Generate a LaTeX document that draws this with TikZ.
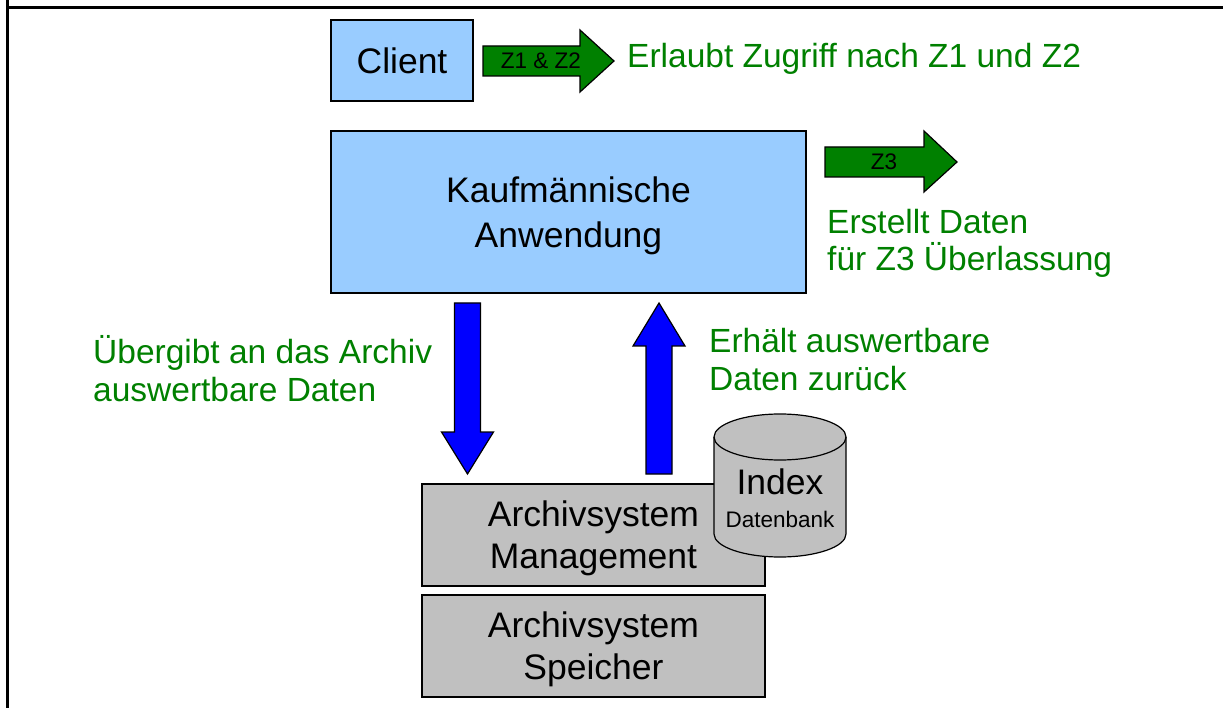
\documentclass[tikz,border=0pt]{standalone}
\usepackage{fontspec}
\setmainfont{Liberation Sans}
\usepackage{tikz}
\usetikzlibrary{calc}

\definecolor{boxblue}{RGB}{153,204,255}
\definecolor{boxgray}{RGB}{192,192,192}
\definecolor{darkgreen}{RGB}{0,128,0}

\begin{document}
\begin{tikzpicture}[x=1pt, y=-1pt,
  box/.style={draw, line width=1.2pt, inner sep=0pt, align=center, font=\fontsize{35.5}{40}\selectfont},
  note/.style={anchor=base west, inner sep=0pt, align=left, text=darkgreen, font=\fontsize{33.5}{37.5}\selectfont},
  tag/.style={inner sep=0pt, font=\fontsize{22.5}{26}\selectfont},
  greenarrow/.style={draw, line width=1.2pt, fill=darkgreen},
  bluearrow/.style={draw, line width=1.2pt, fill=blue}]
\useasboundingbox (0,0) rectangle (1223,708);
\draw[line width=3pt] (7.5,0) -- (7.5,708);
\draw[line width=3pt] (7.5,7.5) -- (1223,7.5);

% boxes
\node[box, fill=boxblue, minimum width=142pt, minimum height=81pt] (client) at (402,60.5) {Client};
\node[box, fill=boxblue, minimum width=475pt, minimum height=162pt, font=\fontsize{35.5}{45}\selectfont, text depth=-2pt] (kaufm) at (568.5,212) {Kaufmännische\\Anwendung};
\node[box, fill=boxgray, minimum width=343pt, minimum height=102pt, font=\fontsize{35.5}{42}\selectfont, text depth=-2.5pt] (mgmt) at (593.5,535) {Archivsystem\\Management};
\node[box, fill=boxgray, minimum width=343pt, minimum height=102pt, font=\fontsize{35.5}{42}\selectfont, text depth=-2.5pt] (store) at (593.5,646) {Archivsystem\\Speicher};

% index db
\draw[line width=1.2pt, fill=boxgray] (714,437) -- (714,534)
  arc[start angle=180, end angle=360, x radius=66pt, y radius=23pt] -- (846,437)
  arc[start angle=0, end angle=180, x radius=66pt, y radius=23pt] -- cycle;
\draw[line width=1.2pt] (714,437) arc[start angle=180, end angle=360, x radius=66pt, y radius=23pt];
\node[anchor=base, inner sep=0pt, font=\fontsize{35.5}{40}\selectfont] (index) at (780,494) {Index};
\node[tag, anchor=base] (dbname) at (780,527) {Datenbank};

% green arrows
\draw[greenarrow] (483,46) -- (580,46) -- (580,30) -- (614,61) -- (580,92) -- (580,76) -- (483,76) -- cycle;
\node[tag] (zonetwo) at (541,61) {Z1 \& Z2};
\draw[greenarrow] (825,147) -- (924,147) -- (924,131) -- (957,162) -- (924,192) -- (924,177) -- (825,177) -- cycle;
\node[tag] (zthree) at (884,162) {Z3};

% blue arrows
\draw[bluearrow] (454.5,303) -- (480.5,303) -- (480.5,432) -- (493.5,432) -- (467.5,474) -- (441.5,432) -- (454.5,432) -- cycle;
\draw[bluearrow] (659,303) -- (685,346) -- (672,346) -- (672,474) -- (646,474) -- (646,346) -- (633,346) -- cycle;

% notes (base = last line)
\node[note] (access) at (627,68) {Erlaubt Zugriff nach Z1 und Z2};
\node[note] (create) at (827,271) {Erstellt Daten\\für Z3 Überlassung};
\node[note] (handover) at (93,401) {Übergibt an das Archiv\\auswertbare Daten};
\node[note] (receive) at (709,390) {Erhält auswertbare\\Daten zurück};
\end{tikzpicture}
\end{document}
